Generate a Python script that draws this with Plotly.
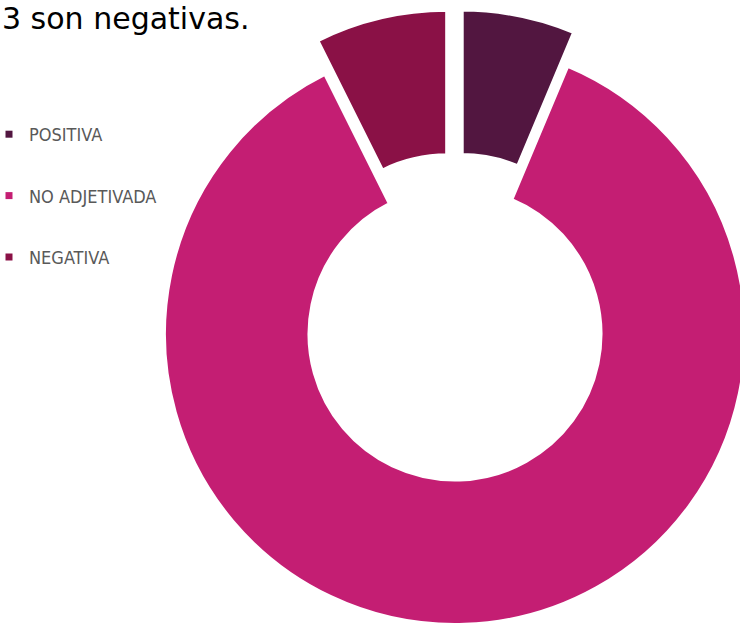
import plotly.graph_objects as go

# ---- data ----
labels = ["POSITIVA", "NO ADJETIVADA", "NEGATIVA"]
values = [6, 82, 7]
colors = ["#521640", "#C41E73", "#8A1146"]
pulls = [0.117, 0, 0.117]
title_text = "3 son negativas."

# ---- layout geometry (the view is a crop of a larger chart) ----
W, H = 800, 680
cx, cy, R = 455, 334, 291
half = R * (1 + max(pulls))

fig = go.Figure()
fig.add_trace(go.Pie(
    labels=labels, values=values, hole=0.5, sort=False,
    direction="clockwise", rotation=0, pull=pulls,
    marker=dict(colors=colors, line=dict(color="white", width=4)),
    textinfo="none", showlegend=False,
    domain=dict(x=[(cx - half) / W, (cx + half) / W],
                y=[(H - cy - half) / H, (H - cy + half) / H]),
))

# legend entries (one per category, same colours)
for lab, col in zip(labels, colors):
    fig.add_trace(go.Scatter(
        x=[None], y=[None], mode="markers",
        marker=dict(symbol="square", size=7, color=col),
        name=lab, legendgroup=lab, showlegend=True, hoverinfo="skip",
    ))

fig.add_annotation(
    text=title_text, xref="paper", yref="paper", x=0, y=1,
    xanchor="left", yanchor="top", showarrow=False, yshift=1,
    font=dict(family="DejaVu Sans", size=30, color="black"),
)

fig.update_xaxes(visible=False)
fig.update_yaxes(visible=False)
fig.update_layout(
    width=W, height=H,
    margin=dict(l=0, r=0, t=0, b=0, autoexpand=False),
    paper_bgcolor="white", plot_bgcolor="white",
    legend=dict(
        x=-11 / W, xanchor="left", y=1 - 116 / H, yanchor="top",
        font=dict(family="Liberation Sans Narrow, DejaVu Sans Condensed, sans-serif",
                  size=18, color="#595959"),
        tracegroupgap=35, bgcolor="rgba(0,0,0,0)",
    ),
)

fig.write_html("out.html", config={"displayModeBar": False},
               post_script="document.body.style.margin='0';")
